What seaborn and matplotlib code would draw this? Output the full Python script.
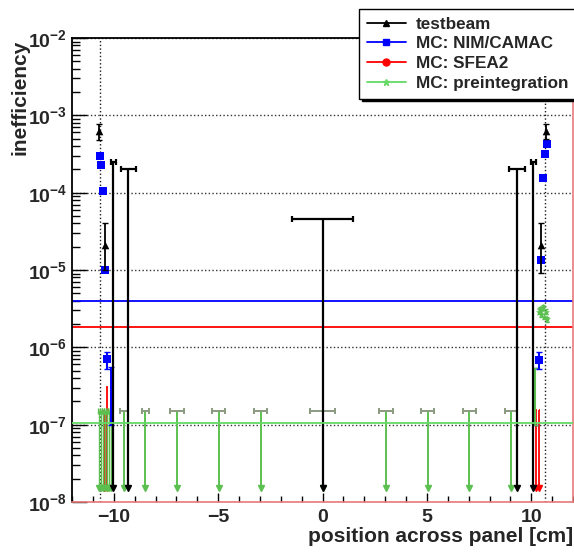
import numpy as np
import matplotlib
matplotlib.use("Agg")
import matplotlib.pyplot as plt
from matplotlib.lines import Line2D
from matplotlib.ticker import MultipleLocator, FixedLocator, LogLocator, NullFormatter
import seaborn as sns

# testbeam, gemessene Punkte
tb_x = [-10.70, -10.40, 10.73, 10.48]
tb_y = [6.3e-4, 2.1e-5, 6.3e-4, 2.1e-5]
tb_lo = [4.8e-4, 1.0e-5, 4.9e-4, 9.2e-6]
tb_hi = [7.8e-4, 4.1e-5, 7.8e-4, 4.1e-5]
# testbeam, obere Grenzen (Wert 0)
tb_ul_x = [-10.02, -9.30, 0.0, 9.31, 10.10]
tb_ul_up = [2.5e-4, 2.0e-4, 4.55e-5, 2.0e-4, 2.5e-4]
tb_ul_w = [0.12, 0.37, 1.45, 0.37, 0.12]

# MC: NIM/CAMAC
nim_x = [-10.67, -10.62, -10.52, -10.43, -10.33, 10.38, 10.48, 10.57, 10.67, 10.77]
nim_y = [3.0e-4, 2.3e-4, 1.05e-4, 1.0e-5, 7.1e-7, 6.9e-7, 1.35e-5, 1.55e-4, 3.2e-4, 4.2e-4]
nim_lo = [2.95e-4, 2.25e-4, 1.02e-4, 9.6e-6, 5.3e-7, 5.2e-7, 1.3e-5, 1.52e-4, 3.15e-4, 4.15e-4]
nim_hi = [3.05e-4, 2.35e-4, 1.08e-4, 1.04e-5, 8.6e-7, 8.6e-7, 1.4e-5, 1.58e-4, 3.25e-4, 4.25e-4]
nim_bar_x = [-10.14, 10.17]
nim_bar_lo = [1.0e-7, 1.0e-7]
nim_bar_hi = [5.5e-7, 5.4e-7]
nim_fit = 4.0e-6

# MC: SFEA2
sfea_ul_x = [-10.45, -10.32, 10.24, 10.39]
sfea_ul_up = [1.55e-7, 3.1e-7, 1.55e-7, 1.55e-7]
sfea_fit = 1.85e-6

# MC: preintegration
pre_x = [10.35, 10.42, 10.48, 10.55, 10.62, 10.70, 10.76]
pre_y = [2.9e-6, 3.1e-6, 2.7e-6, 3.3e-6, 2.5e-6, 2.9e-6, 2.3e-6]
pre_ul_x = [-10.72, -10.62, -10.52, -10.42, -10.32, -10.22, -10.12,
            -9.50, -8.48, -6.97, -4.98, -2.97, 0.0, 3.03, 5.03, 7.03, 9.04]
pre_ul_up = [1.52e-7] * 17
pre_ul_w = [0.04] * 7 + [0.19, 0.18, 0.32, 0.33, 0.32, 0.6, 0.33, 0.32, 0.32, 0.3]
pre_bar_x = [10.17]
pre_bar_lo = [1.0e-7]
pre_bar_hi = [5.4e-7]
pre_fit = 1.05e-7

y_decades = [1e-8, 1e-7, 1e-6, 1e-5, 1e-4, 1e-3, 1e-2]
panel_edges = [-10.67, 10.67]
floor = 1.5e-8

BLUE = "#0000ff"
RED = "#ff0000"
GREEN = "#5cc050"
GREEN_LINE = "#66d966"

sns.set_theme(style="white")
plt.rcParams["font.family"] = ["Liberation Sans", "DejaVu Sans"]
plt.rcParams["font.weight"] = "bold"
plt.rcParams["mathtext.fontset"] = "custom"
plt.rcParams["mathtext.rm"] = "Liberation Sans:bold"
plt.rcParams["mathtext.bf"] = "Liberation Sans:bold"
plt.rcParams["mathtext.default"] = "bf"

fig = plt.figure(figsize=(5.74, 5.54), dpi=100)
ax = fig.add_axes([72 / 574, 52 / 554, 501 / 574, 464 / 554])


def upper_limits(xs, ups, ws, color, lw=1.5, cap_color=None, z=3):
    xs = np.array(xs)
    ups = np.array(ups)
    ax.errorbar(xs, ups, yerr=[ups - floor, np.zeros_like(ups)], fmt="none",
                ecolor=color, elinewidth=lw, capsize=0, zorder=z)
    if ws is not None:
        ax.errorbar(xs, ups, xerr=ws, fmt="none", ecolor=cap_color or color,
                    elinewidth=lw, capsize=2, capthick=lw, zorder=z)
    ax.plot(xs, [floor] * len(xs), ls="none", marker="v", ms=5,
            color=color, mec=color, zorder=z)


# Fit-Linien
ax.axhline(nim_fit, color=BLUE, lw=1.3, zorder=2)
ax.axhline(sfea_fit, color=RED, lw=1.3, zorder=2)
ax.axhline(pre_fit, color=GREEN_LINE, lw=1.3, zorder=3.5)

# Paneelränder
for xe in panel_edges:
    ax.axvline(xe, color="k", ls=":", lw=1.0, zorder=1)

# SFEA2 (liegt unter preintegration)
upper_limits(sfea_ul_x, sfea_ul_up, None, RED, lw=1.3, z=2.6)
ax.errorbar(sfea_ul_x, sfea_ul_up, xerr=0.03, fmt="none", ecolor=RED,
            elinewidth=1.2, capsize=0, zorder=2.6)

# preintegration
upper_limits(pre_ul_x[:7], pre_ul_up[:7], pre_ul_w[:7], GREEN, lw=1.0, cap_color=GREEN, z=3)
upper_limits(pre_ul_x[7:], pre_ul_up[7:], pre_ul_w[7:], GREEN, lw=1.4, cap_color="#8a9a80", z=3)
pre_mid = np.sqrt(np.array(pre_bar_lo) * np.array(pre_bar_hi))
ax.errorbar(pre_bar_x, pre_mid, yerr=[pre_mid - np.array(pre_bar_lo), np.array(pre_bar_hi) - pre_mid],
            fmt="none", ecolor=GREEN, elinewidth=1.5, capsize=2, zorder=3.2)
ax.errorbar(pre_x, pre_y, yerr=[np.array(pre_y) * 0.08, np.array(pre_y) * 0.08],
            fmt="none", ecolor=GREEN, elinewidth=1, capsize=1.5, zorder=3)
sns.scatterplot(x=pre_x, y=pre_y, marker="*", s=30, color=GREEN, edgecolor=GREEN,
                linewidth=0, ax=ax, zorder=4)

# NIM/CAMAC
bar_mid = np.sqrt(np.array(nim_bar_lo) * np.array(nim_bar_hi))
ax.errorbar(nim_bar_x, bar_mid, yerr=[bar_mid - np.array(nim_bar_lo), np.array(nim_bar_hi) - bar_mid],
            fmt="none", ecolor=BLUE, elinewidth=1.4, capsize=2, zorder=3.1)
nim_y_a = np.array(nim_y)
ax.errorbar(nim_x, nim_y_a, yerr=[nim_y_a - np.array(nim_lo), np.array(nim_hi) - nim_y_a],
            fmt="none", ecolor=BLUE, elinewidth=1.5, capsize=2, zorder=4)
sns.scatterplot(x=nim_x, y=nim_y, marker="s", s=36, color=BLUE, edgecolor=BLUE,
                linewidth=0, ax=ax, zorder=5)

# testbeam
upper_limits(tb_ul_x, tb_ul_up, tb_ul_w, "black", lw=1.6, z=3.3)
tb_y_a = np.array(tb_y)
ax.errorbar(tb_x, tb_y_a, yerr=[tb_y_a - np.array(tb_lo), np.array(tb_hi) - tb_y_a],
            fmt="none", ecolor="black", elinewidth=1.3, capsize=2, zorder=5)
sns.scatterplot(x=tb_x, y=tb_y, marker="^", s=30, color="black", edgecolor="black",
                linewidth=0, ax=ax, zorder=6)

# Achsen
ax.set_yscale("log")
ax.set_xlim(-12, 12)
ax.set_ylim(1e-8, 1e-2)
ax.xaxis.set_major_locator(MultipleLocator(5))
ax.xaxis.set_minor_locator(MultipleLocator(1))
ax.yaxis.set_major_locator(FixedLocator(y_decades))
ax.yaxis.set_minor_locator(LogLocator(base=10, subs=np.arange(2, 10), numticks=100))
ax.yaxis.set_minor_formatter(NullFormatter())
ax.grid(axis="y", which="major", ls=":", color="#333333", lw=1.0)
ax.grid(axis="x", visible=False)

ax.tick_params(axis="x", which="major", direction="in", length=6.5, width=1, labelsize=14,
               pad=5, bottom=True, top=False, color="black")
ax.tick_params(axis="x", which="minor", direction="in", length=4, width=1,
               bottom=True, top=False, color="black")
ax.tick_params(axis="y", which="major", direction="in", length=11, width=1, labelsize=14,
               left=True, right=False, color="black")
ax.tick_params(axis="y", which="minor", direction="in", length=5.5, width=1,
               left=True, right=False, color="black")
for lab in ax.get_xticklabels() + ax.get_yticklabels():
    lab.set_fontweight("bold")

for side in ["left", "top"]:
    ax.spines[side].set_color("black")
    ax.spines[side].set_linewidth(1.3)
for side in ["right", "bottom"]:
    ax.spines[side].set_color("#e87a7a")
    ax.spines[side].set_linewidth(1.2)

ax.set_ylabel("inefficiency", fontsize=15, fontweight="bold", loc="top")
ax.yaxis.set_label_coords(-0.084, 0.996)
ax.set_xlabel("position across panel [cm]", fontsize=15, fontweight="bold", loc="right")
ax.xaxis.set_label_coords(1.0, -0.054)

# Legende
handles = [
    Line2D([], [], color="black", lw=1.3, marker="^", ms=4),
    Line2D([], [], color=BLUE, lw=1.3, marker="s", ms=5),
    Line2D([], [], color=RED, lw=1.3, marker="o", ms=5),
    Line2D([], [], color=GREEN_LINE, lw=1.3, marker="*", ms=5),
]
labels = ["testbeam", "MC: NIM/CAMAC", "MC: SFEA2", "MC: preintegration"]
leg = fig.legend(handles, labels, loc="upper right", bbox_to_anchor=(1.004, 0.984),
                 prop={"size": 12.3, "weight": "bold"}, frameon=True, fancybox=False,
                 shadow={"color": "black", "alpha": 1.0}, edgecolor="black",
                 framealpha=1.0, borderpad=0.45, labelspacing=0.28,
                 handlelength=2.3, handletextpad=0.6, borderaxespad=0)
leg.get_frame().set_linewidth(1.0)

fig.savefig("out.png", dpi=100)
